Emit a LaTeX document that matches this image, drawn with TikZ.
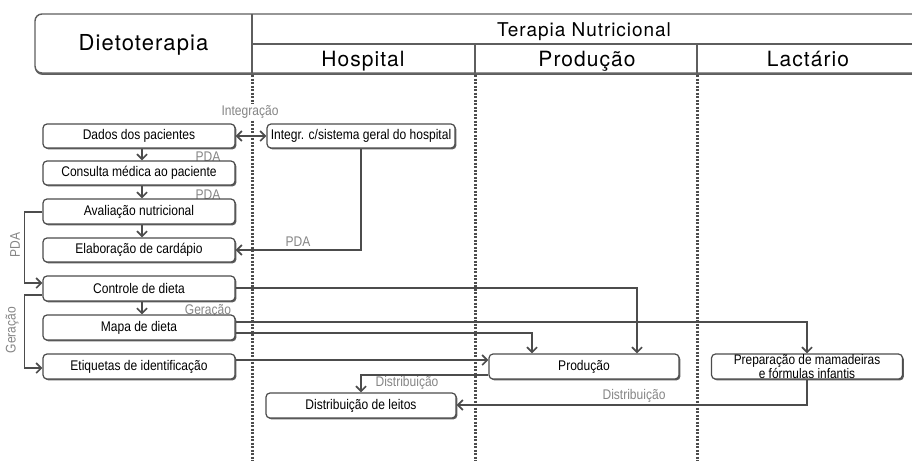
\documentclass[tikz,border=0pt]{standalone}
\usepackage{fontspec}
\setmainfont{Liberation Sans}
\newfontfamily\hdrfont[LetterSpace=5]{TeX Gyre Heros}
\newfontfamily\condfont[FakeStretch=0.86]{Liberation Sans}
\usetikzlibrary{arrows.meta,shadows,calc}
\definecolor{ln}{HTML}{4C4C4C}
\definecolor{lbl}{HTML}{858585}
\begin{document}
\begin{tikzpicture}[x=1pt,y=-1pt,
  box/.style={draw=ln, line width=1.2pt, rounded corners=4pt, fill=white,
    drop shadow={shadow xshift=1.4pt, shadow yshift=-1.4pt, fill=ln, opacity=0.9},
    font=\condfont\fontsize{14}{10}\selectfont, inner sep=0pt, align=center},
  tip/.tip={Straight Barb[length=5pt,width=10pt]},
  arr/.style={draw=ln, line width=1.7pt, arrows={-tip}},
  darr/.style={draw=ln, line width=1.7pt, arrows={tip-tip}},
  lab/.style={text=lbl, font=\condfont\fontsize{14}{10}\selectfont, inner sep=1pt},
  hdr/.style={font=\hdrfont\fontsize{21}{24}\selectfont, anchor=base, inner sep=0pt},
  dotline/.style={draw=ln, line width=3pt, dash pattern=on 2pt off 1.5pt},
  hline/.style={draw=ln!90, line width=1.4pt}]
\useasboundingbox (0,0) rectangle (912,461);
\clip (0,0) rectangle (912,461);
% header
\path[hline, rounded corners=7pt, fill=white,
  drop shadow={shadow xshift=0pt, shadow yshift=-1.8pt, fill=ln, opacity=0.9}] (35,14) rectangle (930,73);
\draw[hline] (252,14) -- (252,73);
\draw[hline] (252,44) -- (930,44);
\draw[hline] (475,44) -- (475,73);
\draw[hline] (697,44) -- (697,73);
\node[hdr, font=\hdrfont\fontsize{22}{24}\selectfont] (dt) at (143.5,50) {Dietoterapia};
\node[hdr, font=\hdrfont\fontsize{19}{22}\selectfont] (tn) at (584,36) {Terapia Nutricional};
\node[hdr] (hosp) at (363,66) {Hospital};
\node[hdr] (prodh) at (587,66) {Produção};
\node[hdr] (lact) at (808,66) {Lactário};
% swimlane separators
\draw[dotline] (252,75) -- (252,461);
\draw[dotline] (475,75) -- (475,461);
\draw[dotline] (697,75) -- (697,461);
% labels drawn before boxes
\node[lab, fill=white] (lInt) at (250,112) {Integração};
\node[lab] (lP1) at (208,157) {PDA};
\node[lab] (lP2) at (208,195) {PDA};
\node[lab] (lG1) at (208,311) {Geração};
\node[lab] (lP3) at (298,242) {PDA};
\node[lab, rotate=90] (lP4) at (15,245) {PDA};
\node[lab, rotate=90] (lG2) at (12,330) {Geração};
\node[lab] (lD1) at (407,383) {Distribuição};
\node[lab] (lD2) at (634,396) {Distribuição};
% boxes
\node[box, minimum width=192, minimum height=24] (dados) at (139,136) {Dados dos pacientes};
\node[box, minimum width=192, minimum height=24] (consulta) at (139,173) {Consulta médica ao paciente};
\node[box, minimum width=192, minimum height=25] (aval) at (139,211.5) {Avaliação nutricional};
\node[box, minimum width=192, minimum height=24] (elab) at (139,250) {Elaboração de cardápio};
\node[box, minimum width=192, minimum height=25] (controle) at (139,288.5) {Controle de dieta};
\node[box, minimum width=192, minimum height=25] (mapa) at (139,327.5) {Mapa de dieta};
\node[box, minimum width=192, minimum height=25] (etiq) at (139,366.5) {Etiquetas de identificação};
\node[box, minimum width=188, minimum height=24] (integr) at (361,136) {Integr. c/sistema geral do hospital};
\node[box, minimum width=190, minimum height=25] (leitos) at (361,405.5) {Distribuição de leitos};
\node[box, minimum width=190, minimum height=25] (producao) at (584,366.5) {Produção};
\node[box, minimum width=191, minimum height=25] (prep) at (807,366.5) {};
\node[font=\condfont\fontsize{13.8}{11.5}\selectfont, align=center, inner sep=0pt] (preptxt) at (prep.center) {Preparação de mamadeiras\\e fórmulas infantis};
% connectors
\draw[darr] (dados.east) -- (integr.west);
\draw[arr] ($(dados.south)+(3,0)$) -- ($(consulta.north)+(3,0)$);
\draw[arr] ($(consulta.south)+(3,0)$) -- ($(aval.north)+(3,0)$);
\draw[arr] ($(aval.south)+(3,0)$) -- ($(elab.north)+(3,0)$);
\draw[arr] ($(controle.south)+(3,0)$) -- ($(mapa.north)+(3,0)$);
\draw[arr] (integr.south) |- (elab.east);
\draw[arr] ($(aval.west)+(0,0.5)$) -- ++(-18,0) |- ($(controle.west)+(0,-5.5)$);
\draw[arr] ($(controle.west)+(0,6.5)$) -- ++(-18,0) |- ($(etiq.west)+(0,1.5)$);
\draw[arr] ($(controle.east)+(0,-0.5)$) -| ($(producao.north)+(53,0)$);
\draw[arr] ($(mapa.east)+(0,-5.5)$) -| (prep.north);
\draw[arr] ($(mapa.east)+(0,5.5)$) -| ($(producao.north)+(-52,0)$);
\draw[arr] ($(etiq.east)+(0,-6.5)$) -- ($(producao.west)+(0,-6.5)$);
\draw[arr] ($(producao.west)+(0,8.5)$) -| (leitos.north);
\draw[arr] (prep.south) |- ($(leitos.east)+(0,-0.5)$);
\end{tikzpicture}
\end{document}
